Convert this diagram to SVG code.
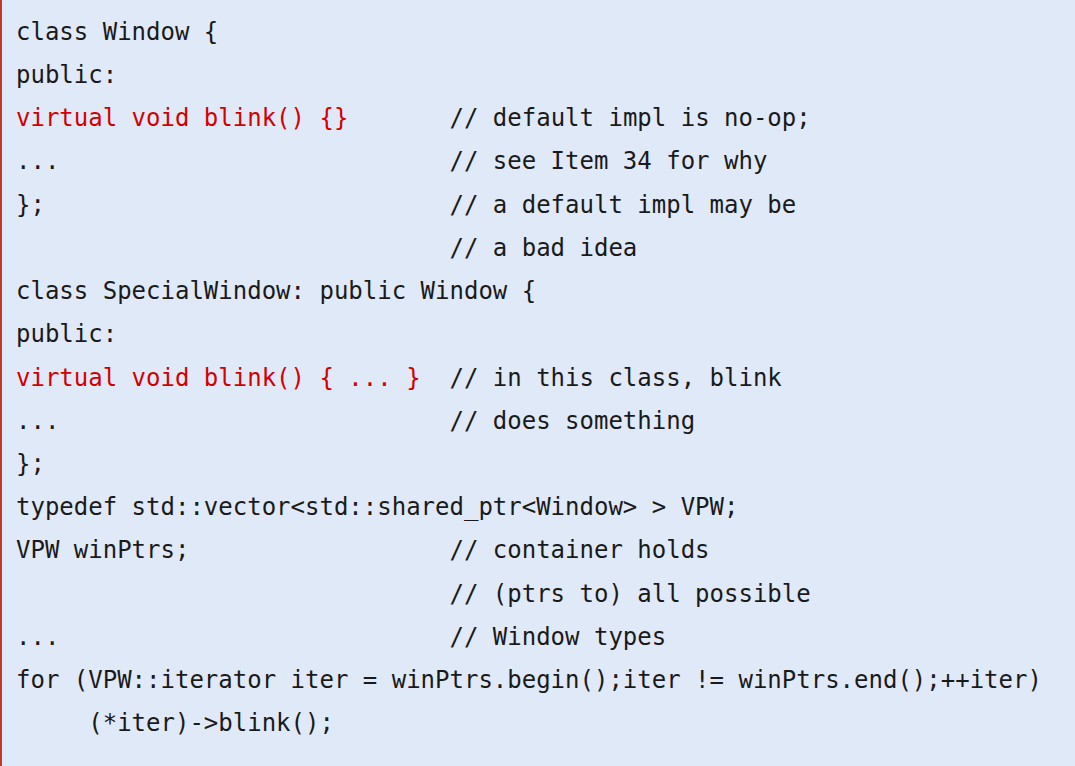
<svg xmlns="http://www.w3.org/2000/svg" width="1075" height="766" viewBox="0 0 1075 766">
<style>
text{font-family:"DejaVu Sans Mono","Liberation Mono",monospace;font-size:24px;fill:#1a1a1a;white-space:pre}
.r{fill:#d40000}
</style>
<rect width="1075" height="766" fill="#e0e9f8"/>
<rect x="0" y="0" width="2" height="766" fill="#c0392b"/>
<g id="code">
<text x="16" y="40">class Window {</text>
<text x="16" y="83">public:</text>
<text x="16" y="126"><tspan class="r">virtual void blink() {}</tspan>       // default impl is no-op;</text>
<text x="16" y="169">...                           // see Item 34 for why</text>
<text x="16" y="213">};                            // a default impl may be</text>
<text x="16" y="256">                              // a bad idea</text>
<text x="16" y="299">class SpecialWindow: public Window {</text>
<text x="16" y="342">public:</text>
<text x="16" y="386"><tspan class="r">virtual void blink() { ... }</tspan>  // in this class, blink</text>
<text x="16" y="429">...                           // does something</text>
<text x="16" y="472">};</text>
<text x="16" y="515">typedef std::vector&lt;std::shared_ptr&lt;Window&gt; &gt; VPW;</text>
<text x="16" y="558">VPW winPtrs;                  // container holds</text>
<text x="16" y="602">                              // (ptrs to) all possible</text>
<text x="16" y="645">...                           // Window types</text>
<text x="16" y="688">for (VPW::iterator iter = winPtrs.begin();iter != winPtrs.end();++iter)</text>
<text x="16" y="731">     (*iter)-&gt;blink();</text>
</g>
</svg>
